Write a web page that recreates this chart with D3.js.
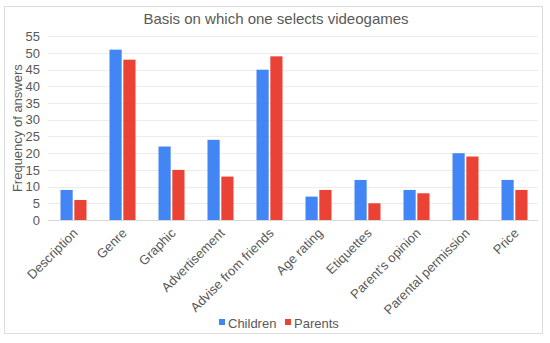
<!DOCTYPE html>
<html>
<head>
<meta charset="utf-8">
<script src="https://cdn.jsdelivr.net/npm/d3@7"></script>
<style>
  body { margin: 0; background: #fff; }
  text { font-family: Arial, "Liberation Sans", sans-serif; fill: #595959; }
</style>
</head>
<body>
<svg width="550" height="343"></svg>
<script>
// Chart data.
var categories = ["Description", "Genre", "Graphic", "Advertisement", "Advise from friends",
  "Age rating", "Etiquettes", "Parent's opinion", "Parental permission", "Price"];
var children = [9, 51, 22, 24, 45, 7, 12, 9, 20, 12];
var parents = [6, 48, 15, 13, 49, 9, 5, 8, 19, 9];
var seriesNames = ["Children", "Parents"];
var seriesColors = ["#4285F4", "#EA4335"];
var yTicks = [0, 5, 10, 15, 20, 25, 30, 35, 40, 45, 50, 55];

var svg = d3.select("svg");

// Outer chart border.
svg.append("rect")
  .attr("x", 4.5).attr("y", 6.5)
  .attr("width", 538).attr("height", 327)
  .attr("fill", "#fff").attr("stroke", "#dcdcdc");

var plotLeft = 48, plotRight = 538, plotTop = 36.3, plotBottom = 220;

var x = d3.scaleBand().domain(categories).range([plotLeft, plotRight]);
var x1 = d3.scaleBand().domain(seriesNames).range([12.5, 38.5]).paddingInner(0.12);
var y = d3.scaleLinear().domain([0, 55]).range([plotBottom, plotTop]);

// Gridlines.
svg.append("g")
  .selectAll("line")
  .data(yTicks)
  .enter()
  .append("line")
  .attr("x1", plotLeft).attr("x2", plotRight)
  .attr("y1", function(d) { return Math.round(y(d)) + 0.5; })
  .attr("y2", function(d) { return Math.round(y(d)) + 0.5; })
  .attr("stroke", function(d) { return d === 0 ? "#d9d9d9" : "#ececec"; });

// Y axis labels.
var yAxis = svg.append("g")
  .attr("transform", "translate(" + plotLeft + ",0)")
  .call(d3.axisLeft(y).tickValues(yTicks).tickSize(0).tickPadding(8));
yAxis.select(".domain").remove();
yAxis.selectAll("text").style("font-size", "13px").style("fill", "#595959")
  .style("font-family", "Arial, 'Liberation Sans', sans-serif");

// Bars.
var rows = categories.map(function(c, i) {
  return { cat: c, vals: [children[i], parents[i]] };
});
var groups = svg.append("g")
  .selectAll("g")
  .data(rows)
  .enter()
  .append("g")
  .attr("transform", function(d) { return "translate(" + x(d.cat) + ",0)"; });
groups.selectAll("rect")
  .data(function(d) { return d.vals.map(function(v, j) { return { s: seriesNames[j], v: v, j: j }; }); })
  .enter()
  .append("rect")
  .attr("x", function(d) { return x1(d.s); })
  .attr("width", x1.bandwidth())
  .attr("y", function(d) { return y(d.v); })
  .attr("height", function(d) { return y(0) - y(d.v); })
  .attr("fill", function(d) { return seriesColors[d.j]; });

// X axis labels, rotated.
var xAxis = svg.append("g")
  .attr("transform", "translate(0," + plotBottom + ")")
  .call(d3.axisBottom(x).tickSize(0).tickPadding(0));
xAxis.select(".domain").remove();
xAxis.selectAll("text")
  .style("font-size", "13px").style("fill", "#595959")
  .style("font-family", "Arial, 'Liberation Sans', sans-serif")
  .attr("text-anchor", "end")
  .attr("dy", "0")
  .attr("transform", "translate(6,14) rotate(-45)");

// Title.
svg.append("text")
  .attr("x", 276).attr("y", 24)
  .attr("text-anchor", "middle")
  .style("font-size", "15px")
  .text("Basis on which one selects videogames");

// Y axis title.
svg.append("text")
  .attr("transform", "translate(22," + ((plotTop + plotBottom) / 2) + ") rotate(-90)")
  .attr("text-anchor", "middle")
  .style("font-size", "13px")
  .text("Frequency of answers");

// Legend.
var legendX = [219, 285];
var legend = svg.append("g")
  .selectAll("g")
  .data(seriesNames)
  .enter()
  .append("g")
  .attr("transform", function(d, i) { return "translate(" + legendX[i] + ",323)"; });
legend.append("rect")
  .attr("x", 0).attr("y", -4)
  .attr("width", 6).attr("height", 6)
  .attr("fill", function(d, i) { return seriesColors[i]; });
legend.append("text")
  .attr("x", 9).attr("y", 0).attr("dy", "0.35em")
  .style("font-size", "13px")
  .text(function(d) { return d; });
</script>
</body>
</html>
